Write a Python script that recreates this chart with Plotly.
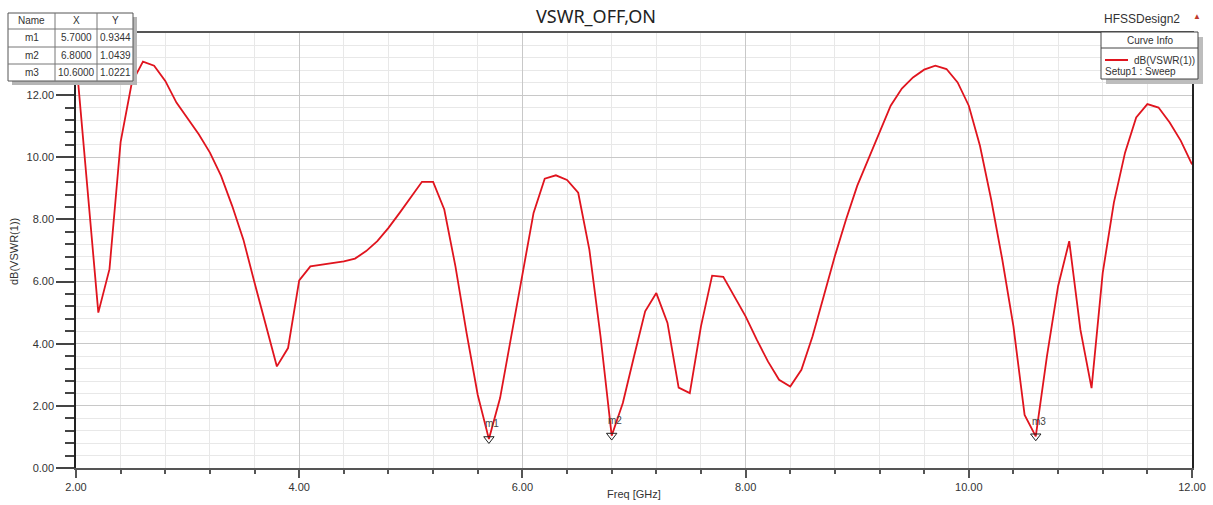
import plotly.graph_objects as go

# ---------------- data ----------------
freq_ghz = [2.0, 2.1, 2.2, 2.3, 2.4, 2.5, 2.6, 2.7, 2.8, 2.9,
            3.0, 3.1, 3.2, 3.3, 3.4, 3.5, 3.6, 3.7, 3.8, 3.9,
            4.0, 4.1, 4.2, 4.3, 4.4, 4.5, 4.6, 4.7, 4.8, 4.9,
            5.0, 5.1, 5.2, 5.3, 5.4, 5.5, 5.6, 5.7, 5.8, 5.9,
            6.0, 6.1, 6.2, 6.3, 6.4, 6.5, 6.6, 6.7, 6.8, 6.9,
            7.0, 7.1, 7.2, 7.3, 7.4, 7.5, 7.6, 7.7, 7.8, 7.9,
            8.0, 8.1, 8.2, 8.3, 8.4, 8.5, 8.6, 8.7, 8.8, 8.9,
            9.0, 9.1, 9.2, 9.3, 9.4, 9.5, 9.6, 9.7, 9.8, 9.9,
            10.0, 10.1, 10.2, 10.3, 10.4, 10.5, 10.6, 10.7, 10.8, 10.9,
            11.0, 11.1, 11.2, 11.3, 11.4, 11.5, 11.6, 11.7, 11.8, 11.9,
            12.0]

vswr_db = [13.20, 9.10, 5.00, 6.40, 10.50, 12.40, 13.08, 12.95, 12.46, 11.76,
           11.23, 10.74, 10.15, 9.40, 8.43, 7.35, 5.96, 4.61, 3.27, 3.86,
           6.04, 6.49, 6.54, 6.58, 6.65, 6.74, 6.98, 7.30, 7.73, 8.21,
           8.70, 9.21, 9.21, 8.32, 6.49, 4.34, 2.35, 0.93, 2.25, 4.24,
           6.28, 8.21, 9.31, 9.42, 9.27, 8.86, 7.03, 4.24, 1.04, 2.09,
           3.59, 5.04, 5.63, 4.67, 2.59, 2.41, 4.56, 6.19, 6.15, 5.53,
           4.88, 4.13, 3.43, 2.84, 2.62, 3.16, 4.24, 5.53, 6.82, 8.00,
           9.08, 9.94, 10.80, 11.66, 12.21, 12.57, 12.82, 12.95, 12.84, 12.41,
           11.66, 10.37, 8.65, 6.71, 4.56, 1.71, 1.02, 3.59, 5.85, 7.30,
           4.45, 2.57, 6.28, 8.54, 10.15, 11.28, 11.71, 11.60, 11.12, 10.53,
           9.77]

marker_names = ["m1", "m2", "m3"]
marker_x = [5.7, 6.8, 10.6]
marker_y = [0.9344, 1.0439, 1.0221]

x_tick_vals = [2, 4, 6, 8, 10, 12]
x_tick_text = ["2.00", "4.00", "6.00", "8.00", "10.00", "12.00"]
y_tick_vals = [0, 2, 4, 6, 8, 10, 12]
y_tick_text = ["0.00", "2.00", "4.00", "6.00", "8.00", "10.00", "12.00"]

table_header = ["Name", "X", "Y"]
title_text = "VSWR_OFF,ON"
curve_name = "dB(VSWR(1))"
setup_name = "Setup1 : Sweep"
design_name = "HFSSDesign2"

# ---------------- layout geometry (pixels) ----------------
W, H = 1213, 505
L, R, T, B = 76, 1192, 33, 468


def px(x):
    return (x - L) / (R - L)


def py(y):
    return (B - y) / (B - T)


FONT = "Liberation Sans, Arial, sans-serif"
RED = "#e0141e"

fig = go.Figure()
fig.add_trace(go.Scatter(x=freq_ghz, y=vswr_db, mode="lines",
                         line=dict(color=RED, width=1.8),
                         name=curve_name, hoverinfo="x+y"))
fig.add_trace(go.Scatter(x=marker_x, y=marker_y, mode="markers",
                         marker=dict(symbol="triangle-down-open", size=9,
                                     color="#222222", line=dict(width=1, color="#222222")),
                         hoverinfo="x+y", name="markers"))

shapes = []
annotations = []

# marker labels
for n, mx, my in zip(marker_names, marker_x, marker_y):
    annotations.append(dict(x=mx, y=my, xref="x", yref="y", text=n, showarrow=False,
                            xshift=3, yshift=15, font=dict(family=FONT, size=10, color="#444444")))

# ---- marker table (top-left) ----
tx0, tx1, ty0, ty1 = 8, 133, 13, 81
col_edges = [8, 55, 97, 133]
row_edges = [13, 29, 47, 64, 81]
shapes.append(dict(type="rect", xref="paper", yref="paper", layer="above",
                   x0=px(tx0 + 4), x1=px(tx1 + 4), y0=py(ty0 + 4), y1=py(ty1 + 4),
                   fillcolor="#b5b5b5", line=dict(width=0)))
shapes.append(dict(type="rect", xref="paper", yref="paper", layer="above",
                   x0=px(tx0), x1=px(tx1), y0=py(ty0), y1=py(ty1),
                   fillcolor="white", line=dict(color="#555555", width=1)))
for cx in col_edges[1:-1]:
    shapes.append(dict(type="line", xref="paper", yref="paper", layer="above",
                       x0=px(cx), x1=px(cx), y0=py(ty0), y1=py(ty1),
                       line=dict(color="#777777", width=1)))
for ry in row_edges[1:-1]:
    shapes.append(dict(type="line", xref="paper", yref="paper", layer="above",
                       x0=px(tx0), x1=px(tx1), y0=py(ry), y1=py(ry),
                       line=dict(color="#777777", width=1)))
rows = [table_header] + [[n, f"{mx:.4f}", f"{my:.4f}"]
                         for n, mx, my in zip(marker_names, marker_x, marker_y)]
for ri, row in enumerate(rows):
    yc = (row_edges[ri] + row_edges[ri + 1]) / 2
    for ci, cell in enumerate(row):
        xc = (col_edges[ci] + col_edges[ci + 1]) / 2
        annotations.append(dict(x=px(xc), y=py(yc), xref="paper", yref="paper",
                                text=cell, showarrow=False, xanchor="center", yanchor="middle",
                                font=dict(family=FONT, size=10, color="#333333")))

# ---- curve info box (top-right) ----
lx0, lx1, ly0, ly1 = 1101, 1198, 32, 79
shapes.append(dict(type="rect", xref="paper", yref="paper", layer="above",
                   x0=px(lx0 + 5), x1=px(lx1 + 5), y0=py(ly0 + 5), y1=py(ly1 + 5),
                   fillcolor="#bdbdbd", line=dict(width=0)))
shapes.append(dict(type="rect", xref="paper", yref="paper", layer="above",
                   x0=px(lx0), x1=px(lx1), y0=py(ly0), y1=py(ly1),
                   fillcolor="white", line=dict(color="#444444", width=1)))
shapes.append(dict(type="line", xref="paper", yref="paper", layer="above",
                   x0=px(lx0), x1=px(lx1), y0=py(48), y1=py(48),
                   line=dict(color="#444444", width=1)))
shapes.append(dict(type="line", xref="paper", yref="paper", layer="above",
                   x0=px(1105), x1=px(1128), y0=py(60), y1=py(60),
                   line=dict(color=RED, width=2)))
annotations += [
    dict(x=px(1150), y=py(40.5), xref="paper", yref="paper", text="Curve Info", showarrow=False,
         xanchor="center", yanchor="middle", font=dict(family=FONT, size=10, color="#333333")),
    dict(x=px(1132), y=py(60), xref="paper", yref="paper", text=curve_name, showarrow=False,
         xanchor="left", yanchor="middle", font=dict(family=FONT, size=10, color="#333333")),
    dict(x=px(1103), y=py(72), xref="paper", yref="paper", text=setup_name, showarrow=False,
         xanchor="left", yanchor="middle", font=dict(family=FONT, size=10, color="#333333")),
    dict(x=px(1102), y=py(19), xref="paper", yref="paper", text=design_name, showarrow=False,
         xanchor="left", yanchor="middle", font=dict(family=FONT, size=12, color="#333333")),
    dict(x=px(1197), y=py(16), xref="paper", yref="paper", text="▲", showarrow=False,
         xanchor="center", yanchor="middle", font=dict(family=FONT, size=8, color="#c0392b")),
    dict(x=px(596), y=py(16), xref="paper", yref="paper", text=title_text, showarrow=False,
         xanchor="center", yanchor="middle", font=dict(family="Noto Sans, sans-serif", size=18, color="#222222")),
    dict(x=px(634), y=py(494), xref="paper", yref="paper", text="Freq [GHz]", showarrow=False,
         xanchor="center", yanchor="middle", font=dict(family=FONT, size=11, color="#333333")),
    dict(x=px(14), y=py(252), xref="paper", yref="paper", text="dB(VSWR(1))", showarrow=False,
         textangle=-90, xanchor="center", yanchor="middle", font=dict(family=FONT, size=11, color="#333333")),
]

fig.update_layout(
    width=W, height=H,
    margin=dict(l=L, r=W - R, t=T, b=H - B, pad=0, autoexpand=False),
    paper_bgcolor="white", plot_bgcolor="white",
    showlegend=False,
    shapes=shapes, annotations=annotations,
    font=dict(family=FONT, size=11, color="#333333"),
)
fig.update_xaxes(range=[2, 12], tickvals=x_tick_vals, ticktext=x_tick_text, automargin=False,
                 ticks="outside", ticklen=8, tickcolor="#555555", tickwidth=1.5,
                 showline=True, linecolor="#555555", linewidth=1.5, mirror=True,
                 showgrid=True, gridcolor="#c8c8c8", gridwidth=1, zeroline=False,
                 tickfont=dict(family=FONT, size=11, color="#333333"),
                 minor=dict(dtick=0.4, tick0=2, ticks="outside", ticklen=4, tickcolor="#555555",
                            tickwidth=1.5, showgrid=True, gridcolor="#e8e8e8", gridwidth=1))
fig.update_yaxes(range=[0, 14], tickvals=y_tick_vals, ticktext=y_tick_text, automargin=False,
                 ticks="outside", ticklen=18, tickcolor="#444444", tickwidth=1.5,
                 showline=True, linecolor="#222222", linewidth=1.5, mirror=True,
                 showgrid=True, gridcolor="#c8c8c8", gridwidth=1, zeroline=False,
                 tickfont=dict(family=FONT, size=11, color="#333333"),
                 minor=dict(dtick=0.4, tick0=0, ticks="outside", ticklen=9, tickcolor="#444444",
                            tickwidth=1.5, showgrid=True, gridcolor="#e8e8e8", gridwidth=1))

fig.write_html("out.html", config={"displayModeBar": False},
               post_script="document.body.style.margin='0';document.body.style.overflow='hidden';")
